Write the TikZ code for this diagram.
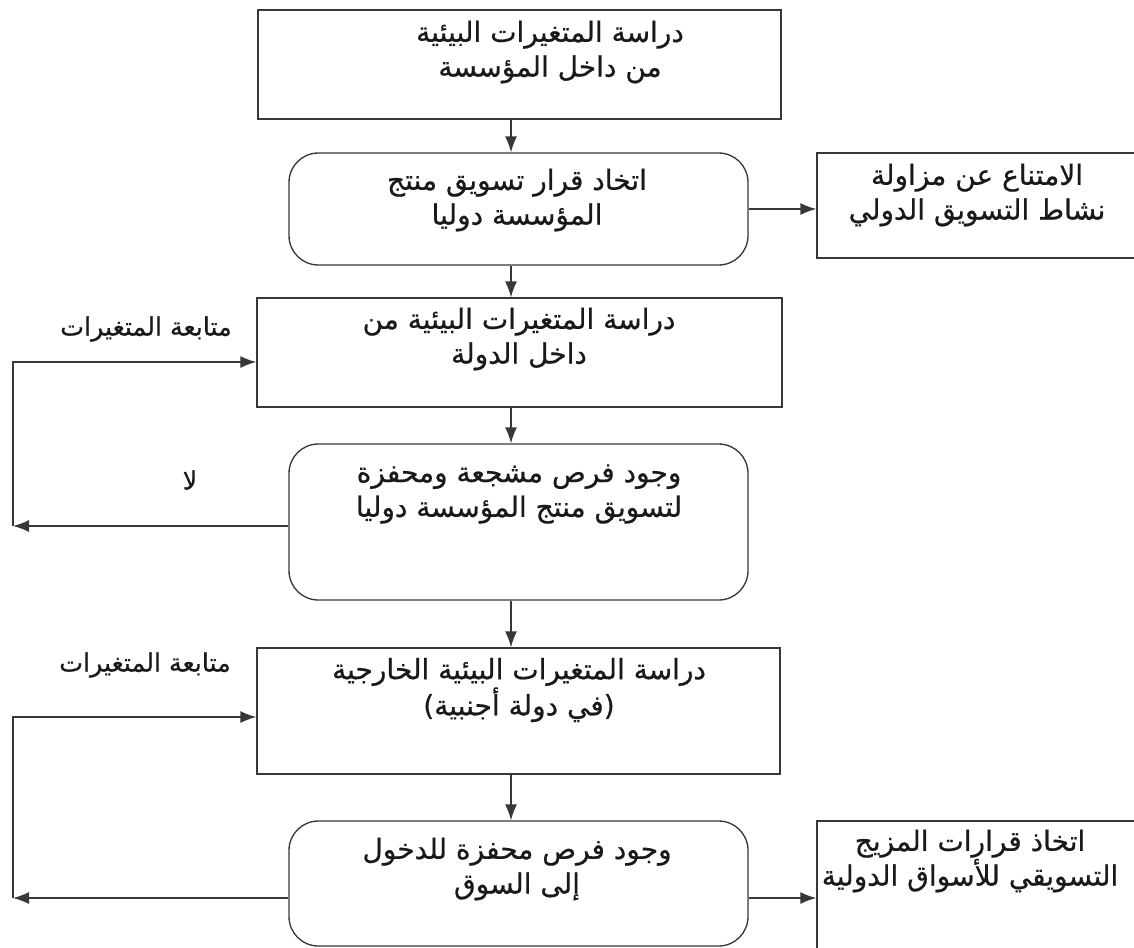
\documentclass[tikz,border=0pt]{standalone}
\usepackage{fontspec}
\newfontfamily\arabicfont[Script=Arabic,FakeBold=0.6]{DejaVu Sans}
\TeXXeTstate=1
\usetikzlibrary{arrows.meta}
\newcommand{\artext}[1]{\beginR #1\endR}
\begin{document}
\begin{tikzpicture}[x=0.75pt,y=-0.75pt,
    box/.style={draw=black!78,line width=1pt,inner sep=0pt},
    rbox/.style={box,rounded corners=22pt},
    txt/.style={font=\arabicfont\fontsize{21}{26}\selectfont,align=center,text=black!90},
    lbl/.style={font=\arabicfont\fontsize{19}{21}\selectfont,text=black!90},
    arr/.style={draw=black!78,line width=1pt,-{Latex[length=12pt,width=9pt]}}]
  \clip (0,0) rectangle (1134,947);
  % boxes
  \node[box,minimum width=392.25pt,minimum height=81.75pt] (b1) at (519.5,64.5) {};
  \node[rbox,minimum width=344.25pt,minimum height=84pt] (b2) at (518.5,209) {};
  \node[box,minimum width=257.25pt,minimum height=78.75pt] (b2r) at (988.5,205.5) {};
  \node[box,minimum width=393.75pt,minimum height=81.75pt] (b3) at (519.5,352.5) {};
  \node[rbox,minimum width=344.25pt,minimum height=117pt] (b4) at (518.5,522) {};
  \node[box,minimum width=392.25pt,minimum height=94.5pt] (b5) at (518.5,711) {};
  \node[rbox,minimum width=344.25pt,minimum height=93.75pt] (b6) at (518.5,883.5) {};
  \node[box,minimum width=257.25pt,minimum height=119.25pt] (b6r) at (988.5,900.5) {};
  % texts
  \node[txt] (t1) at (550,52) {\artext{دراسة المتغيرات البيئية}\\\artext{من داخل المؤسسة}};
  \node[txt] (t2) at (517,200) {\artext{اتخاد قرار تسويق منتج}\\\artext{المؤسسة دوليا}};
  \node[txt] (t2r) at (977,195) {\artext{الامتناع عن مزاولة}\\\artext{نشاط التسويق الدولي}};
  \node[txt] (t3) at (519,339) {\artext{دراسة المتغيرات البيئية من}\\\artext{داخل الدولة}};
  \node[txt] (t4) at (519,494) {\artext{وجود فرص مشجعة ومحفزة}\\\artext{لتسويق منتج المؤسسة دوليا}};
  \node[txt] (t5) at (519,690) {\artext{دراسة المتغيرات البيئية الخارجية}\\\artext{(في دولة أجنبية)}};
  \node[txt] (t6) at (517,869) {\artext{وجود فرص محفزة للدخول}\\\artext{إلى السوق}};
  \node[txt] (t6r) at (970,861) {\artext{اتخاذ قرارات المزيج}\\\artext{التسويقي للأسواق الدولية}};
  \node[lbl] (l1) at (146,329) {\artext{متابعة المتغيرات}};
  \node[lbl] (l2) at (145,665) {\artext{متابعة المتغيرات}};
  \node[lbl] (no) at (190,480) {\artext{لا}};
  % connectors
  \coordinate (spine) at (511,0);
  \coordinate (up1) at (13,362);
  \coordinate (dn1) at (13,526);
  \coordinate (up2) at (13,717);
  \coordinate (dn2) at (13,898);
  \draw[arr] (b1.south -| spine) -- (b2.north -| spine);
  \draw[arr] (b2.south -| spine) -- (b3.north -| spine);
  \draw[arr] (b3.south -| spine) -- (b4.north -| spine);
  \draw[arr] (b4.south -| spine) -- (b5.north -| spine);
  \draw[arr] (b5.south -| spine) -- (b6.north -| spine);
  \draw[arr] (b2.east) -- (b2.east -| b2r.west);
  \draw[arr] (dn2 -| b6.east) -- (dn2 -| b6r.west);
  \draw[arr] (dn1 -| b4.west) -- (dn1);
  \draw[arr] (dn1) -- (up1) -- (up1 -| b3.west);
  \draw[arr] (dn2 -| b6.west) -- (dn2);
  \draw[arr] (dn2) -- (up2) -- (up2 -| b5.west);
\end{tikzpicture}
\end{document}
